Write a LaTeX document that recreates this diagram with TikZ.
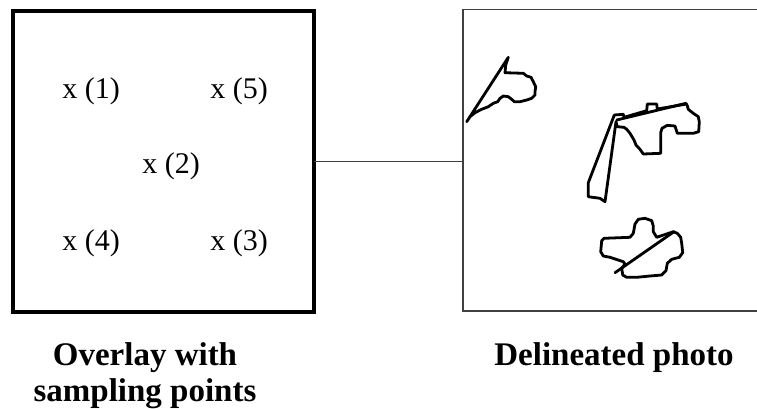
\documentclass[tikz,border=0pt]{standalone}
\usepackage{fontspec}
\setmainfont{Liberation Serif}
\begin{document}
\begin{tikzpicture}[x=1pt,y=-1pt,
  frame/.style={draw, inner sep=0pt, outer sep=0pt},
  pt/.style={font=\fontsize{30}{32}\selectfont, anchor=base, inner sep=0pt},
  caption/.style={font=\bfseries\fontsize{33}{36}\selectfont, align=center, anchor=base, inner sep=0pt},
  blob/.style={line width=2.8pt, line join=round, line cap=round}]
\useasboundingbox (0,0) rectangle (757,408);
% left overlay box
\node[frame, line width=4pt, minimum width=300.5pt, minimum height=301pt] (overlay) at (163.25,161.5) {};
% right photo box (right edge runs off the page)
\node[frame, line width=1.5pt, draw=black!75, minimum width=300pt, minimum height=301.5pt] (photo) at (613,160.25) {};
% connector
\draw[line width=1.3pt, black!75] (overlay.east) -- (overlay.east -| photo.west);
% sampling points
\node[pt] (p1) at (91,98) {x (1)};
\node[pt] (p5) at (239,98) {x (5)};
\node[pt] (p2) at (171,173) {x (2)};
\node[pt] (p4) at (91,250) {x (4)};
\node[pt] (p3) at (239,250) {x (3)};
% captions
\node[caption] (cap1) at (145,401) {Overlay with\\sampling points};
\node[caption] (cap2) at (614,365) {Delineated photo};
% delineated shapes
\draw[blob] (466.7,121.7) -- (508.3,57.3) -- (505.7,65) -- (505,72.7) -- (523.3,73.3) -- (526.7,76) -- (531,77.3) -- (533.3,81.7) -- (535.7,86.7) -- (535,91.7) -- (535,95) -- (531.7,98.3) -- (526.7,100) -- (520,101.7) -- (514.3,101.7) -- (511.7,99.3) -- (508.3,96.7) -- (503.3,96) -- (500,98.3) -- (497.7,101.7) -- (493.3,103.3) -- (488.3,106.7) -- (481.7,109.3) -- (475,112.7) -- (470,116.7) -- cycle;
\draw[blob] (588.3,196.7) -- (588.3,182.7) -- (614.3,115) -- (623.3,114.3) -- (624,117.3) -- (646.7,110.7) -- (647.3,104) -- (656.7,104) -- (657.3,109) -- (686.7,104) -- (688.3,109.3) -- (693.3,113.3) -- (698.3,116.7) -- (699.3,121.7) -- (698.7,131.7) -- (693.3,133.3) -- (677.3,133.3) -- (675,126) -- (667.3,125.3) -- (662,128.3) -- (660.7,132.7) -- (660.7,153.3) -- (643.3,154) -- (640,149.3) -- (636,145) -- (634,140) -- (630,133.3) -- (626.7,129.3) -- (624,127.3) -- (617.3,126.7) -- (616,121.7) -- (605,201.7) -- (600,198.3) -- cycle;
\draw[blob] (616.7,120) -- (686,103.3);
\draw[blob] (601.7,240.7) -- (604,238.3) -- (630,237.3) -- (633.3,233.3) -- (635,224) -- (638.3,219.3) -- (645,218.3) -- (651.7,220.7) -- (653.3,226) -- (653.3,231.7) -- (656.7,237.3) -- (673.3,231.7) -- (677.3,233.3) -- (680.7,237.3) -- (681.7,243.3) -- (682.7,252.7) -- (679.3,257.3) -- (671.7,259.3) -- (667.3,263.3) -- (666,270.7) -- (661.7,275) -- (650,276) -- (636.7,277.3) -- (626.7,277.3) -- (622.7,275) -- (621.7,268.3) -- (625,264) -- (623.3,261.7) -- (610,257.3) -- (603.3,256) -- (600.7,251.7) -- cycle;
\draw[blob] (615,272.7) -- (674,231.7);
\end{tikzpicture}
\end{document}
